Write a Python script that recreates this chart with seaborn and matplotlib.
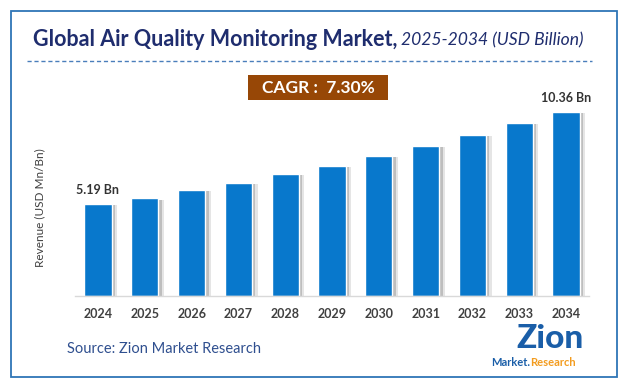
import numpy as np
import pandas as pd
import matplotlib
matplotlib.use("Agg")
import matplotlib.pyplot as plt
import matplotlib.patheffects as pe
from matplotlib.patches import Rectangle
import seaborn as sns

# Data
years = ["2024", "2025", "2026", "2027", "2028", "2029", "2030", "2031", "2032", "2033", "2034"]
revenue = [5.19, 5.50, 5.97, 6.37, 6.87, 7.32, 7.89, 8.45, 9.07, 9.75, 10.36]
labelled = {"2024": "5.19 Bn", "2034": "10.36 Bn"}
cagr_text = "CAGR :  7.30%"

df = pd.DataFrame({"year": years, "revenue": revenue})

sns.set_theme(style="white")
plt.rcParams["font.family"] = ["Lato", "DejaVu Sans"]

W, H = 634, 392
fig = plt.figure(figsize=(W / 100, H / 100), dpi=100)
fig.patch.set_facecolor("white")

def fx(px):
    return px / W

def fy(py):
    return 1 - py / H

# outer border
fig.patches.append(Rectangle((fx(11), fy(377)), fx(606), (377 - 11) / H,
                             transform=fig.transFigure, fill=False,
                             edgecolor="#2e75b6", lw=1.3))

# title
t1 = fig.text(fx(33), fy(40), "Global Air Quality Monitoring Market,", fontsize=15.5,
              fontweight="bold", color="#1f2d6e", va="center", ha="left")
fig.canvas.draw()
bb = t1.get_window_extent()
fig.text(bb.x1 / W + fx(4), fy(40), "2025-2034 (USD Billion)", fontsize=12.6,
         style="italic", color="#1f2d6e", va="center", ha="left")

# dashed separator
fig.add_artist(plt.Line2D([fx(27), fx(592)], [fy(61), fy(61)], transform=fig.transFigure,
                          color="#4a7ebb", lw=1, ls=(0, (3, 2))))

# CAGR box
fig.patches.append(Rectangle((fx(248), fy(100)), fx(140), 25 / H, transform=fig.transFigure,
                             facecolor="#974706", edgecolor="none"))
fig.text(fx(318), fy(88), cagr_text, fontsize=12.5, fontweight="bold", color="white",
         ha="center", va="center")

# main axes
ax = fig.add_axes([fx(74.6), fy(296), fx(514.8), (296 - 100) / H])
sns.barplot(data=df, x="year", y="revenue", color="#0878cc", saturation=1,
            width=0.58, ax=ax)
for p in ax.patches:
    p.set_path_effects([pe.SimplePatchShadow(offset=(4, -1), shadow_rgbFace="#999999", alpha=0.25),
                        pe.SimplePatchShadow(offset=(2.5, -1), shadow_rgbFace="#777777", alpha=0.35),
                        pe.Normal()])
ax.set_xlim(-0.5, 10.5)
ax.set_ylim(0, 196 / 17.75)
ax.set_yticks([])
ax.set_xlabel("")
ax.set_ylabel("")
for s in ["top", "right", "left"]:
    ax.spines[s].set_visible(False)
ax.spines["bottom"].set_color("#d9d9d9")
ax.spines["bottom"].set_linewidth(1)
ax.tick_params(axis="x", length=0, pad=9)
for lab in ax.get_xticklabels():
    lab.set_fontweight("bold")
    lab.set_fontsize(9)
    lab.set_color("#404040")

for i, (y, v) in enumerate(zip(years, revenue)):
    if y in labelled:
        ax.annotate(labelled[y], (i, v), xytext=(0, 6), textcoords="offset points",
                    ha="center", va="bottom", fontsize=9, fontweight="bold", color="#333333")

fig.text(fx(40), fy(208), "Revenue (USD Mn/Bn)", rotation=90, fontsize=8.5,
         color="#404040", ha="center", va="center")

# source
fig.text(fx(67), fy(349), "Source: Zion Market Research", fontsize=10.5,
         color="#2f4f8f", ha="left", va="center")

# logo (text approximation)
fig.text(fx(550), fy(339), "Zion", fontsize=24, fontweight="black", color="#1a5ea8",
         ha="center", va="center")
fig.text(fx(530), fy(363), "Market.", fontsize=8, fontweight="bold", color="#1a5ea8",
         ha="right", va="center")
fig.text(fx(530), fy(363), "Research", fontsize=8, fontweight="bold", color="#f39c1f",
         ha="left", va="center")

fig.savefig("out.png", dpi=100)
